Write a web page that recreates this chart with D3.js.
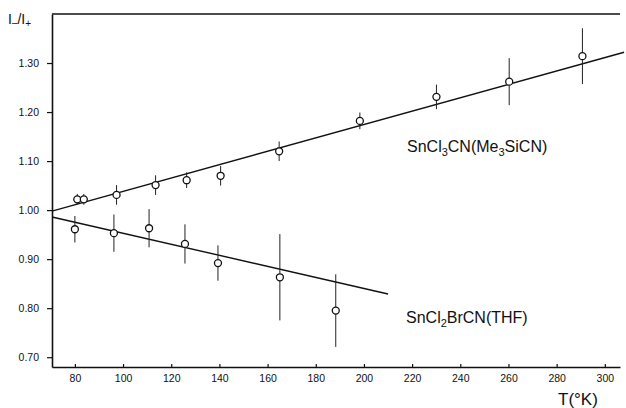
<!DOCTYPE html>
<html>
<head>
<meta charset="utf-8">
<script src="https://cdn.jsdelivr.net/npm/d3@7"></script>
<style>
  body { margin: 0; background: #fff; }
  text { font-family: "Liberation Sans", Arial, sans-serif; fill: #111; }
</style>
</head>
<body>
<div id="chart"></div>
<script>
  // Data
  var xTicks = [80, 100, 120, 140, 160, 180, 200, 220, 240, 260, 280, 300];
  var yTicks = [0.70, 0.80, 0.90, 1.00, 1.10, 1.20, 1.30];

  // SnCl3CN(Me3SiCN)
  var upperT = [81, 83.7, 97.3, 113.5, 126.4, 140.5, 164.8, 198.3, 230.1, 260.3, 290.7];
  var upperR = [1.022, 1.022, 1.031, 1.051, 1.061, 1.070, 1.120, 1.182, 1.231, 1.262, 1.314];
  var upperErr = [0.011, 0.011, 0.02, 0.02, 0.016, 0.02, 0.02, 0.017, 0.025, 0.048, 0.057];
  var upperFitT = [70.5, 308];
  var upperFitR = [0.998, 1.322];

  // SnCl2BrCN(THF)
  var lowerT = [80, 96.2, 110.8, 125.7, 139.4, 165.1, 188.3];
  var lowerR = [0.961, 0.953, 0.963, 0.931, 0.892, 0.863, 0.795];
  var lowerErr = [0.027, 0.038, 0.039, 0.04, 0.036, 0.088, 0.074];
  var lowerFitT = [70.5, 210];
  var lowerFitR = [0.986, 0.829];

  var width = 626;
  var height = 408;
  var margin = { top: 14, right: 6, bottom: 41, left: 52 };

  var svg = d3.select("#chart")
    .append("svg")
    .attr("width", width)
    .attr("height", height);

  var xScale = d3.scaleLinear()
    .domain([70.5, 306.3])
    .range([margin.left, width - margin.right]);

  var yScale = d3.scaleLinear()
    .domain([0.68, 1.40])
    .range([height - margin.bottom, margin.top]);

  // Axes
  var xAxis = svg.append("g")
    .attr("transform", "translate(0," + (height - margin.bottom) + ")")
    .call(d3.axisBottom(xScale)
      .tickValues(xTicks)
      .tickSizeInner(-3)
      .tickSizeOuter(0)
      .tickPadding(8)
      .tickFormat(d3.format("d")));

  var yAxis = svg.append("g")
    .attr("transform", "translate(" + margin.left + ",0)")
    .call(d3.axisLeft(yScale)
      .tickValues(yTicks)
      .tickSize(5)
      .tickSizeOuter(0)
      .tickPadding(8)
      .tickFormat(d3.format(".2f")));

  svg.selectAll(".domain").attr("stroke", "#111").attr("stroke-width", 1.6);
  svg.selectAll(".tick line").attr("stroke", "#111").attr("stroke-width", 1.2);
  svg.selectAll(".tick text")
    .attr("font-size", "10.5px")
    .attr("font-family", "Liberation Sans, Arial, sans-serif")
    .attr("fill", "#111");

  // Top frame line
  svg.append("line")
    .attr("x1", xScale.range()[0])
    .attr("x2", xScale.range()[1])
    .attr("y1", yScale(1.40))
    .attr("y2", yScale(1.40))
    .attr("stroke", "#111")
    .attr("stroke-width", 1.6);

  var line = d3.line()
    .x(function(d) { return xScale(d[0]); })
    .y(function(d) { return yScale(d[1]); });

  function drawSeries(T, R, E, fitT, fitR) {
    var pts = T.map(function(t, i) { return { t: t, r: R[i], e: E[i] }; });

    svg.append("path")
      .datum(fitT.map(function(t, i) { return [t, fitR[i]]; }))
      .attr("d", line)
      .attr("fill", "none")
      .attr("stroke", "#111")
      .attr("stroke-width", 1.4);

    var g = svg.append("g");

    g.selectAll("line.err")
      .data(pts)
      .enter()
      .append("line")
      .attr("class", "err")
      .attr("x1", function(d) { return xScale(d.t); })
      .attr("x2", function(d) { return xScale(d.t); })
      .attr("y1", function(d) { return yScale(d.r - d.e); })
      .attr("y2", function(d) { return yScale(d.r + d.e); })
      .attr("stroke", "#222")
      .attr("stroke-width", 1);

    g.selectAll("circle")
      .data(pts)
      .enter()
      .append("circle")
      .attr("cx", function(d) { return xScale(d.t); })
      .attr("cy", function(d) { return yScale(d.r); })
      .attr("r", 3.5)
      .attr("fill", "#fff")
      .attr("stroke", "#111")
      .attr("stroke-width", 1.3);
  }

  drawSeries(upperT, upperR, upperErr, upperFitT, upperFitR);
  drawSeries(lowerT, lowerR, lowerErr, lowerFitT, lowerFitR);

  // Series labels with subscripts
  function label(x, y, parts) {
    var t = svg.append("text")
      .attr("x", x)
      .attr("y", y)
      .attr("font-size", "16px");
    parts.forEach(function(p) {
      var s = t.append("tspan").text(p[0]);
      if (p[1]) {
        s.attr("font-size", "11px").attr("dy", 4);
      } else {
        s.attr("dy", p[2] || 0);
      }
    });
  }

  label(407, 152, [["SnCl"], ["3", true], ["CN(Me", false, -4], ["3", true], ["SiCN)", false, -4]]);
  label(406, 323, [["SnCl"], ["2", true], ["BrCN(THF)", false, -4]]);

  // Axis titles
  var yt = svg.append("text")
    .attr("x", 8)
    .attr("y", 24)
    .attr("font-size", "14px");
  yt.append("tspan").text("I");
  yt.append("tspan").text("–").attr("font-size", "10px").attr("dy", 2);
  yt.append("tspan").text("/I").attr("dy", -2);
  yt.append("tspan").text("+").attr("font-size", "10px").attr("dy", 3);

  svg.append("text")
    .attr("x", 558)
    .attr("y", 405)
    .attr("font-size", "17px")
    .text("T(°K)");
</script>
</body>
</html>
